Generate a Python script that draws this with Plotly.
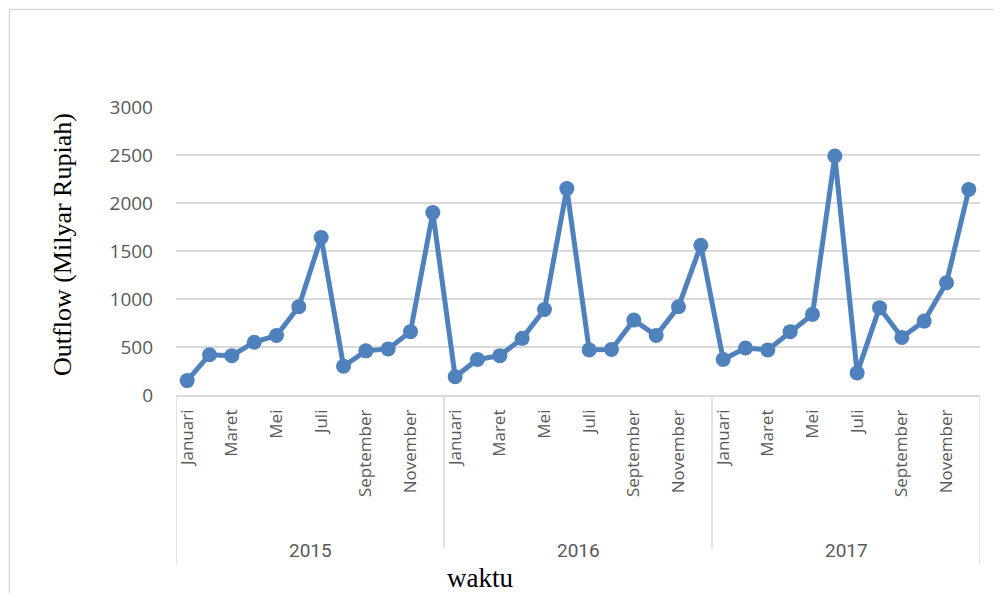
import plotly.graph_objects as go

# data (Outflow, Milyar Rupiah)
years = ["2015", "2016", "2017"]
months = ["Januari", "Februari", "Maret", "April", "Mei", "Juni",
          "Juli", "Agustus", "September", "Oktober", "November", "Desember"]
outflow_2015 = [150, 420, 410, 550, 620, 920, 1640, 300, 460, 480, 660, 1900]
outflow_2016 = [190, 370, 410, 590, 890, 2150, 470, 475, 780, 620, 920, 1560]
outflow_2017 = [370, 490, 470, 660, 840, 2490, 230, 910, 600, 770, 1170, 2140]
y_ticks = [0, 500, 1000, 1500, 2000, 2500, 3000]

values = outflow_2015 + outflow_2016 + outflow_2017
idx = list(range(len(values)))

# every other month gets a label, like the original
tick_pos = [i for i in idx if i % 2 == 0]
tick_txt = [months[i % 12] for i in tick_pos]

BLUE = "#4F81BD"
GRID = "#D9D9D9"
GRAY = "#595959"

fig = go.Figure()
fig.add_trace(go.Scatter(
    x=idx, y=values, mode="lines+markers",
    line=dict(color=BLUE, width=5),
    marker=dict(color=BLUE, size=15),
    showlegend=False, hoverinfo="y",
))

# page body adds an 8px offset, so work in page pixels and shift
OFF = 8
W, H = 1002 - 2 * OFF, 601 - 2 * OFF
# plot area in page pixels: x 176..980, y 107..395
L, R, T, B = 176, 980, 107, 395


def py(pix):
    return (B - pix) / (B - T)


def px(pix):
    return (pix - L) / (R - L)


shapes = []
# year separators on the category axis
n = len(months)
for k in range(len(years) + 1):
    xb = k * n - 0.5
    outer = k in (0, len(years))
    shapes.append(dict(type="line", xref="x", yref="paper",
                       x0=xb, x1=xb, y0=0, y1=py(565 if outer else 548),
                       line=dict(color=GRID, width=1.5)))
# outer chart border
shapes.append(dict(type="rect", xref="paper", yref="paper",
                   x0=px(9.5), x1=px(1010), y0=py(620), y1=py(9.5),
                   line=dict(color=GRID, width=1.5)))

annotations = []
for k, yr in enumerate(years):
    annotations.append(dict(x=k * n + (n - 1) / 2, xref="x", y=py(550), yref="paper",
                            xanchor="center", yanchor="middle",
                            text=yr, showarrow=False,
                            font=dict(family="Liberation Sans Narrow, Roboto, sans-serif",
                                      size=19, color=GRAY)))
annotations.append(dict(x=px(480), y=py(578), xref="paper", yref="paper",
                        xanchor="center", yanchor="middle",
                        text="waktu", showarrow=False,
                        font=dict(family="Liberation Serif, Times New Roman, serif",
                                  size=27, color="black")))
annotations.append(dict(x=px(62), y=py(245), xref="paper", yref="paper",
                        xanchor="center", yanchor="middle",
                        text="Outflow (Milyar Rupiah)", textangle=-90, showarrow=False,
                        font=dict(family="Liberation Serif, Times New Roman, serif",
                                  size=26, color="black")))

fig.update_layout(
    width=W, height=H,
    margin=dict(l=L - OFF, r=W - (R - OFF), t=T - OFF, b=H - (B - OFF), autoexpand=False),
    paper_bgcolor="white", plot_bgcolor="white",
    shapes=shapes, annotations=annotations,
    font=dict(family="Open Sans, sans-serif", color=GRAY),
)
fig.update_xaxes(
    range=[-0.5, len(values) - 0.5],
    tickvals=tick_pos, ticktext=tick_txt, tickangle=-90,
    tickfont=dict(size=17, color=GRAY), ticklabelstandoff=6,
    showgrid=False, zeroline=False,
    showline=True, linecolor=GRID, linewidth=1.5, ticks="",
)
fig.update_yaxes(
    range=[0, 3000], tickvals=y_ticks,
    tickfont=dict(size=19, color=GRAY), ticklabelstandoff=22,
    showgrid=True, gridcolor=GRID, gridwidth=1.5,
    zeroline=False, showline=False, ticks="",
)

fig.write_html("out.html")
